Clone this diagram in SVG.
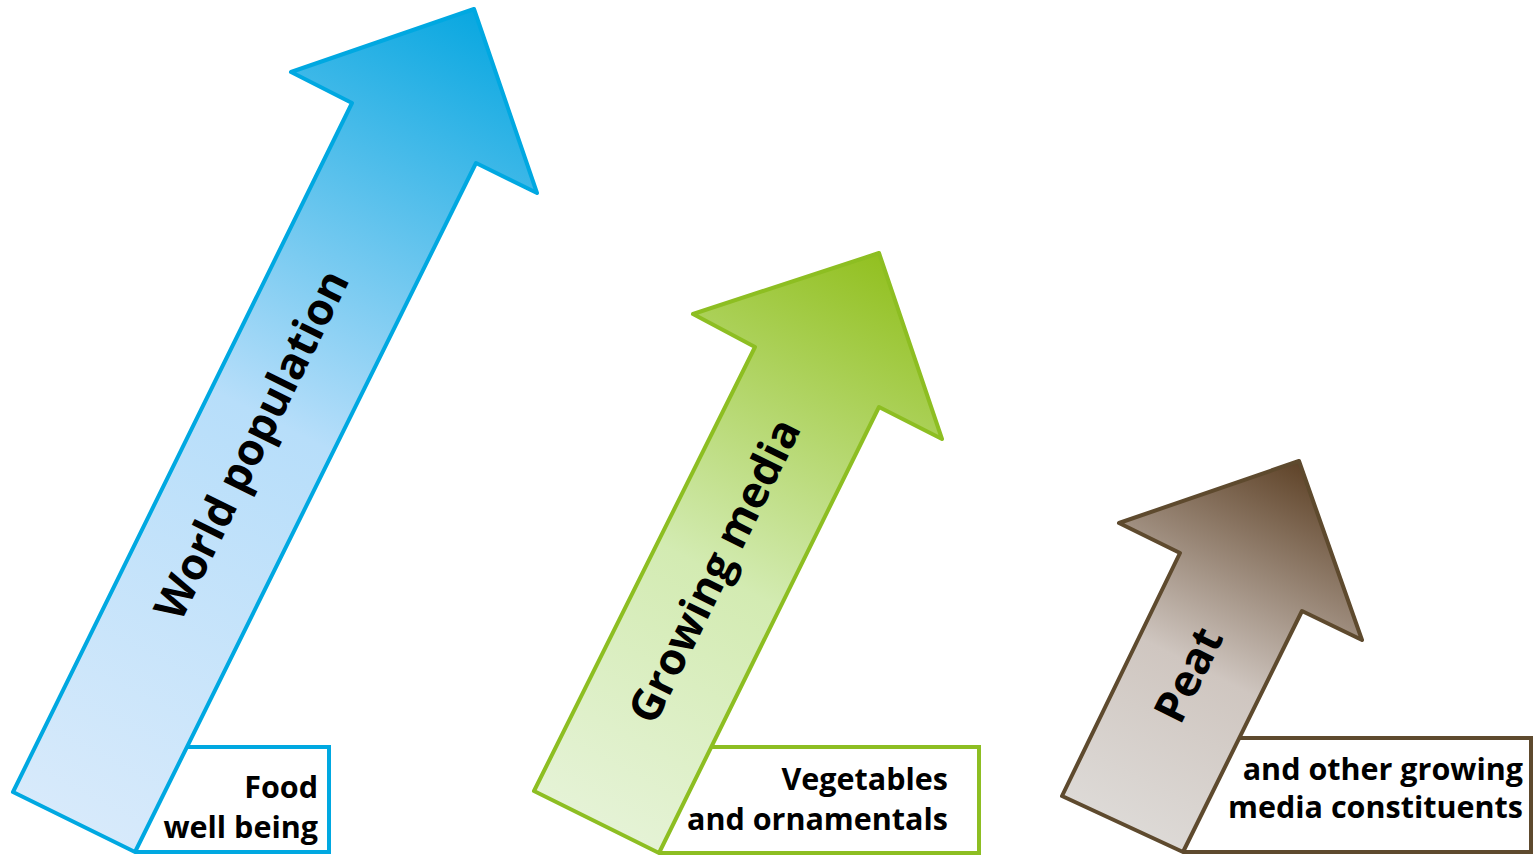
<svg xmlns="http://www.w3.org/2000/svg" width="1533" height="855" viewBox="0 0 1533 855">
<defs>
<linearGradient id="gBlue" gradientUnits="userSpaceOnUse" x1="500" y1="20" x2="80" y2="840">
<stop offset="0" stop-color="#08A7E0"/>
<stop offset="0.5" stop-color="#B7DEFA"/>
<stop offset="1" stop-color="#D8EAFB"/>
</linearGradient>
<linearGradient id="gGreen" gradientUnits="userSpaceOnUse" x1="900" y1="265" x2="590" y2="840">
<stop offset="0" stop-color="#92C020"/>
<stop offset="0.55" stop-color="#D3EBB2"/>
<stop offset="1" stop-color="#E6F3D8"/>
</linearGradient>
<linearGradient id="gBrown" gradientUnits="userSpaceOnUse" x1="1310" y1="465" x2="1120" y2="840">
<stop offset="0" stop-color="#5E4227"/>
<stop offset="0.55" stop-color="#CFC6C0"/>
<stop offset="1" stop-color="#DEDBD8"/>
</linearGradient>
</defs>
<style>
.arrow{stroke-width:4;stroke-linejoin:round}
.boxfill{fill:#FFFFFF;stroke:none}
.boxline{fill:none;stroke-width:4}
.lbl{font-family:"Open Sans","Liberation Sans",sans-serif;font-weight:bold;font-size:30.5px;fill:#000000;text-anchor:end}
.big{font-family:"Open Sans","Liberation Sans",sans-serif;font-weight:bold;font-size:44px;fill:#000000;text-anchor:middle;dominant-baseline:central}
</style>
<g id="connectors"></g>
<g id="node-world">
<polygon class="boxfill" points="186,747 329,747 329,852 135,852"/>
<polyline class="boxline" stroke="#00A8E1" points="186,747 329,747 329,852 135,852"/>
<polygon class="arrow" fill="url(#gBlue)" stroke="#00A8E1" points="13,792 352,103 291,72 474,9 537,193 476,163 135,852"/>
<text class="big" transform="translate(250,444) rotate(-63.7)">World population</text>
<text class="lbl" x="318" y="798">Food</text>
<text class="lbl" x="318" y="838">well being</text>
</g>
<g id="node-growing">
<polygon class="boxfill" points="709,747 979,747 979,853 659,853"/>
<polyline class="boxline" stroke="#8DBE22" points="709,747 979,747 979,853 659,853"/>
<polygon class="arrow" fill="url(#gGreen)" stroke="#8DBE22" points="534,791 755,347 693,314 879,253 942,439 879,407 659,853"/>
<text class="big" transform="translate(713,570) rotate(-63.7)">Growing media</text>
<text class="lbl" x="948" y="790">Vegetables</text>
<text class="lbl" x="948" y="830">and ornamentals</text>
</g>
<g id="node-peat">
<polygon class="boxfill" points="1238,738 1531,738 1531,852 1183,852"/>
<polyline class="boxline" stroke="#5E4A2E" points="1238,738 1531,738 1531,852 1183,852"/>
<polygon class="arrow" fill="url(#gBrown)" stroke="#5E4A2E" points="1062,796 1180,553 1119,523 1299,461 1362,640 1302,611 1183,852"/>
<text class="big" transform="translate(1187,674) rotate(-63.7)">Peat</text>
<text class="lbl" x="1523" y="780">and other growing</text>
<text class="lbl" x="1523" y="818">media constituents</text>
</g>
</svg>
